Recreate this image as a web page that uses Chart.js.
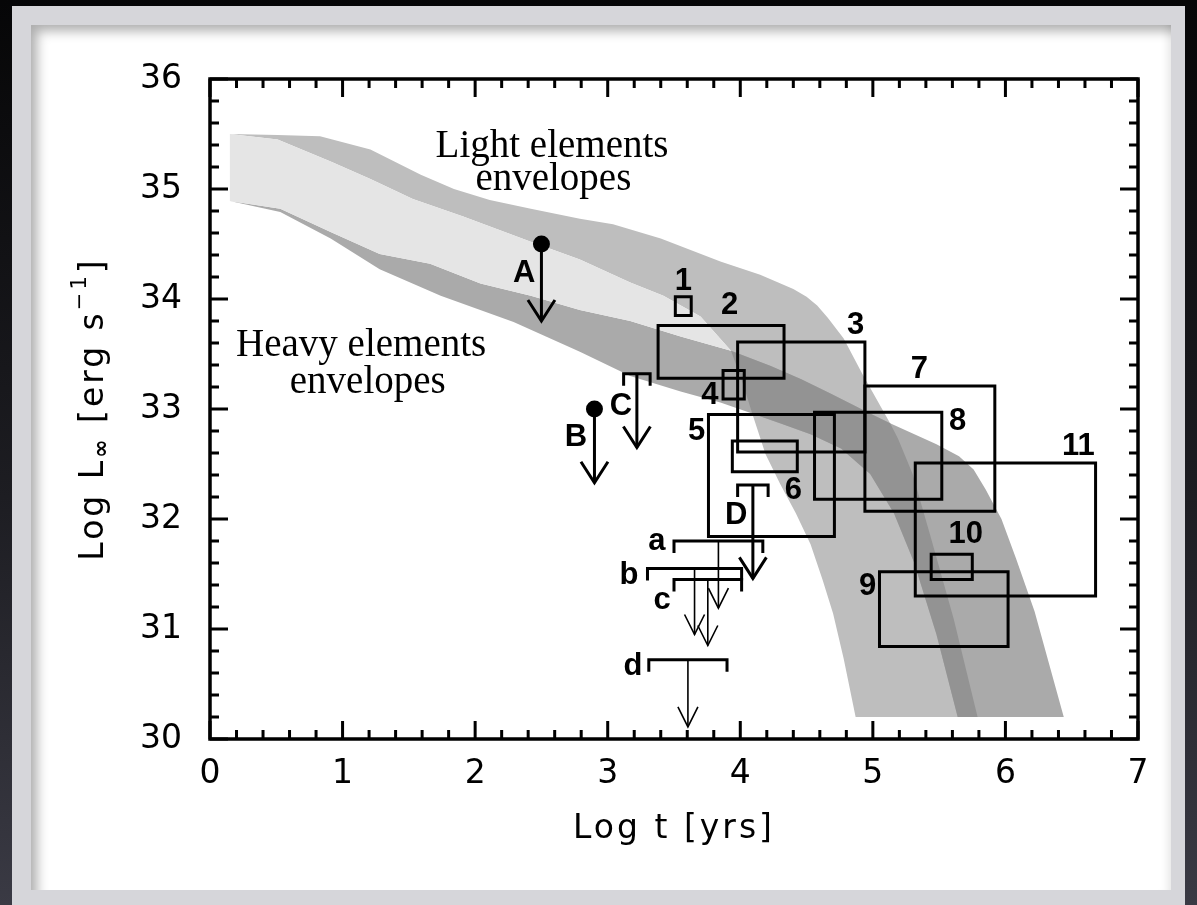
<!DOCTYPE html>
<html>
<head>
<meta charset="utf-8">
<script src="https://cdn.jsdelivr.net/npm/chart.js@4.4.1/dist/chart.umd.min.js"></script>
<style>
  html, body { margin: 0; padding: 0; }
  body {
    width: 1197px; height: 905px; overflow: hidden; position: relative;
    background: linear-gradient(180deg, #060607 0%, #1d1d22 55%, #3a3a44 100%);
  }
  #panel { position: absolute; left: 12px; top: 6px; width: 1173px; height: 899px; background: #d6d6da; }
  #sheet {
    position: absolute; left: 31px; top: 25px; width: 1140px; height: 865px; background: #fff;
    box-shadow: inset 12px 12px 12px -6px rgba(0,0,0,.32), inset -10px 0 10px -8px rgba(0,0,0,.12);
  }
  #chart { position: absolute; left: 0; top: 0; }
</style>
</head>
<body>
<div id="panel"></div>
<div id="sheet"></div>
<canvas id="chart" width="1197" height="905"></canvas>
<script>
// Axes: log age (years) and log thermal luminosity (erg/s)
const ageRange = [0, 7];
const lumRange = [30, 36];

// Minimal-cooling predictions: edges of the two envelope bands, as [log t, log L]
const lightTop = [[0.15,35.50],[0.51,35.49],[0.83,35.48],[1.21,35.36],[1.59,35.13],[1.84,35.00],[2.11,34.90],[2.42,34.82],[2.79,34.73],[3.04,34.68],[3.40,34.55],[3.85,34.34],[4.15,34.22],[4.40,34.09],[4.50,34.02],[4.58,33.94],[4.66,33.83],[4.78,33.64],[4.92,33.32],[5.06,33.02],[5.13,32.87],[5.19,32.73],[5.30,32.41],[5.44,31.82],[5.61,31.09],[5.79,30.20]];
const lightBottom = [[0.15,35.50],[0.51,35.45],[0.91,35.25],[1.21,35.09],[1.53,34.91],[1.91,34.75],[2.42,34.52],[2.79,34.36],[3.17,34.15],[3.42,34.03],[3.70,33.84],[3.93,33.53],[4.02,33.23],[4.09,32.96],[4.19,32.59],[4.30,32.32],[4.42,32.05],[4.53,31.77],[4.62,31.45],[4.70,31.14],[4.78,30.73],[4.87,30.20]];
const heavyTop = [[0.15,34.89],[0.53,34.82],[0.91,34.61],[1.28,34.41],[1.66,34.32],[2.04,34.14],[2.42,34.03],[2.79,33.90],[3.17,33.80],[3.55,33.66],[3.93,33.53],[4.23,33.39],[4.46,33.27],[4.68,33.14],[4.96,32.97],[5.13,32.87],[5.48,32.68],[5.65,32.57],[5.76,32.45],[5.85,32.27],[5.97,32.00],[6.08,31.64],[6.22,31.16],[6.33,30.68],[6.44,30.20]];
const heavyBottom = [[0.15,34.89],[0.53,34.79],[0.91,34.55],[1.28,34.27],[1.74,34.03],[2.29,33.79],[2.79,33.52],[3.17,33.30],[3.55,33.16],[3.85,33.06],[4.09,32.96],[4.30,32.87],[4.53,32.77],[4.76,32.64],[4.98,32.41],[5.16,32.05],[5.31,31.61],[5.48,30.95],[5.64,30.20]];
// where the band edges cross each other
const crossLowLightTopHeavy = [3.93, 33.53];
const crossTopLightTopHeavy = [5.13, 32.87];
const crossLowLightLowHeavy = [4.09, 32.96];

const envCaption = ['Light elements', 'envelopes', 'Heavy elements', 'envelopes'];
const envCaptionAge = [2.58, 2.59, 1.14, 1.19];
const envCaptionLum = [35.29, 34.99, 33.48, 33.145];

// Detected sources: error boxes in age and luminosity
const boxNames = ['1','2','3','4','5','6','7','8','9','10','11'];
const boxAgeMin = [3.51, 3.38, 3.98, 3.87, 3.76, 3.94, 4.94, 4.56, 5.05, 5.44, 5.32];
const boxAgeMax = [3.63, 4.33, 4.94, 4.03, 4.71, 4.43, 5.92, 5.52, 6.02, 5.75, 6.68];
const boxLumMin = [33.85, 33.28, 32.61, 33.09, 31.84, 32.43, 32.07, 32.18, 30.84, 31.45, 31.30];
const boxLumMax = [34.02, 33.76, 33.61, 33.35, 32.95, 32.71, 33.21, 32.97, 31.52, 31.68, 32.51];
const boxLabelAge = [3.57, 3.92, 4.87, 3.77, 3.67, 4.40, 5.35, 5.64, 4.96, 5.70, 6.55];
const boxLabelLum = [34.16, 33.94, 33.76, 33.12, 32.80, 32.26, 33.36, 32.89, 31.39, 31.86, 32.66];

// Upper limits with a known age
const dotNames = ['A', 'B'];
const dotAge = [2.50, 2.90];
const dotLum = [34.50, 33.00];
const dotTip = [33.80, 32.33];
const dotLabelAge = [2.37, 2.76];
const dotLabelLum = [34.23, 32.74];

// Upper limits with an age range
const limNames = ['C', 'D', 'a', 'b', 'c', 'd'];
const limAgeMin = [3.12, 3.98, 3.50, 3.30, 3.50, 3.31];
const limAgeMax = [3.32, 4.21, 4.17, 4.01, 4.01, 3.90];
const limLum = [33.32, 32.31, 31.80, 31.55, 31.45, 30.72];
const limTip = [32.65, 31.46, 31.19, 30.95, 30.85, 30.11];
const limLabelAge = [3.10, 3.97, 3.37, 3.16, 3.41, 3.19];
const limLabelLum = [33.02, 32.03, 31.80, 31.49, 31.26, 30.66];

// ---- helpers ----
const pts = arr => arr.map(([x, y]) => ({ x, y }));
const rev = arr => arr.slice().reverse();
const at = (curve, p) => curve.findIndex(q => q[0] === p[0] && q[1] === p[1]);
const isThin = name => name === name.toLowerCase() && name !== name.toUpperCase();

const iA = at(lightBottom, crossLowLightTopHeavy), iB = at(lightBottom, crossLowLightLowHeavy);
const hA = at(heavyTop, crossLowLightTopHeavy), hB = at(heavyTop, crossTopLightTopHeavy);
const uB = at(lightTop, crossTopLightTopHeavy), bB = at(heavyBottom, crossLowLightLowHeavy);

const lightBand = [...lightTop, ...rev(lightBottom)];
const heavyBand = [...heavyTop, ...rev(heavyBottom)];
const betweenBands = [...lightBottom.slice(0, iA + 1), ...rev(heavyTop.slice(0, hA + 1))];
const bothBands = [
  ...heavyTop.slice(hA, hB + 1),
  ...lightTop.slice(uB),
  ...rev(heavyBottom.slice(bB)),
  ...rev(lightBottom.slice(iA, iB + 1))
];

const area = (data, color, order) => ({
  data: pts(data), showLine: true, fill: 'shape', backgroundColor: color,
  borderColor: 'rgba(0,0,0,0)', borderWidth: 0, pointRadius: 0, tension: 0, order
});

const datasets = [
  area(lightBand, '#bebebe', 100),
  area(heavyBand, '#aaaaaa', 99),
  area(betweenBands, '#e5e5e5', 98),
  area(bothBands, '#939393', 97)
];

boxNames.forEach((n, i) => {
  const a0 = boxAgeMin[i], a1 = boxAgeMax[i], l0 = boxLumMin[i], l1 = boxLumMax[i];
  datasets.push({
    data: pts([[a0, l0], [a1, l0], [a1, l1], [a0, l1], [a0, l0]]),
    showLine: true, fill: false, borderColor: '#000', borderWidth: 3,
    borderJoinStyle: 'miter', borderCapStyle: 'square', pointRadius: 0, tension: 0, order: 10
  });
});

dotNames.forEach((n, i) => {
  datasets.push({
    data: pts([[dotAge[i], dotLum[i]], [dotAge[i], dotTip[i]]]),
    showLine: true, fill: false, borderColor: '#000', borderWidth: 3,
    pointRadius: 0, tension: 0, order: 8
  });
});

limNames.forEach((n, i) => {
  const mid = (limAgeMin[i] + limAgeMax[i]) / 2;
  datasets.push({
    data: pts([[mid, limLum[i]], [mid, limTip[i]]]),
    showLine: true, fill: false, borderColor: '#000', borderWidth: isThin(n) ? 1.6 : 3,
    pointRadius: 0, tension: 0, order: 8
  });
});

datasets.push({
  data: dotNames.map((n, i) => ({ x: dotAge[i], y: dotLum[i] })),
  showLine: false, pointRadius: 8.5, pointBackgroundColor: '#000', pointBorderWidth: 0, order: 1
});

const SANS = '"DejaVu Sans", sans-serif';

// Frame, inward ticks, labels and axis titles
const decorations = {
  id: 'decorations',
  afterDatasetsDraw(chart) {
    const { ctx, scales: { x, y } } = chart;
    const px = v => x.getPixelForValue(v), py = v => y.getPixelForValue(v);
    ctx.save();
    ctx.strokeStyle = '#000'; ctx.fillStyle = '#000';
    ctx.lineJoin = 'miter'; ctx.lineCap = 'butt';

    // brackets of the age-range limits
    limNames.forEach((n, i) => {
      const x0 = px(limAgeMin[i]), x1 = px(limAgeMax[i]), yb = py(limLum[i]);
      ctx.lineWidth = 3;
      ctx.beginPath();
      ctx.moveTo(x0, yb + 12); ctx.lineTo(x0, yb); ctx.lineTo(x1, yb); ctx.lineTo(x1, yb + 12);
      ctx.stroke();
    });

    // open arrow heads
    const head = (t, l, thin) => {
      const hx = px(t), hy = py(l), w = thin ? 10 : 13.5, h = thin ? 20 : 21;
      ctx.lineWidth = thin ? 1.6 : 3;
      ctx.beginPath();
      ctx.moveTo(hx - w, hy - h); ctx.lineTo(hx, hy); ctx.lineTo(hx + w, hy - h);
      ctx.stroke();
    };
    dotNames.forEach((n, i) => head(dotAge[i], dotTip[i], false));
    limNames.forEach((n, i) => head((limAgeMin[i] + limAgeMax[i]) / 2, limTip[i], isThin(n)));

    // envelope captions
    ctx.font = '39px "Liberation Serif", "Times New Roman", serif';
    ctx.textAlign = 'center'; ctx.textBaseline = 'alphabetic';
    envCaption.forEach((s, i) => ctx.fillText(s, px(envCaptionAge[i]), py(envCaptionLum[i])));

    // source labels
    ctx.font = 'bold 31px "Liberation Sans", Arial, sans-serif';
    ctx.textBaseline = 'middle';
    boxNames.forEach((s, i) => ctx.fillText(s, px(boxLabelAge[i]), py(boxLabelLum[i])));
    dotNames.forEach((s, i) => ctx.fillText(s, px(dotLabelAge[i]), py(dotLabelLum[i])));
    limNames.forEach((s, i) => ctx.fillText(s, px(limLabelAge[i]), py(limLabelLum[i])));
    ctx.restore();
  },
  afterDraw(chart) {
    const { ctx, chartArea: a, scales: { x, y } } = chart;
    ctx.save();
    ctx.strokeStyle = '#000'; ctx.fillStyle = '#000';
    ctx.lineWidth = 3.5;
    ctx.strokeRect(a.left, a.top, a.right - a.left, a.bottom - a.top);

    ctx.lineWidth = 3; ctx.lineCap = 'butt';
    ctx.beginPath();
    for (let k = 0; k <= (ageRange[1] - ageRange[0]) * 5; k++) {
      const p = x.getPixelForValue(ageRange[0] + k / 5), len = k % 5 === 0 ? 18 : 9;
      ctx.moveTo(p, a.bottom); ctx.lineTo(p, a.bottom - len);
      ctx.moveTo(p, a.top); ctx.lineTo(p, a.top + len);
    }
    for (let k = 0; k <= (lumRange[1] - lumRange[0]) * 5; k++) {
      const p = y.getPixelForValue(lumRange[0] + k / 5), len = k % 5 === 0 ? 18 : 9;
      ctx.moveTo(a.left, p); ctx.lineTo(a.left + len, p);
      ctx.moveTo(a.right, p); ctx.lineTo(a.right - len, p);
    }
    ctx.stroke();

    // x title
    ctx.letterSpacing = '3px';
    ctx.font = '33px ' + SANS;
    ctx.textAlign = 'center'; ctx.textBaseline = 'alphabetic';
    ctx.fillText('Log t [yrs]', (a.left + a.right) / 2, a.bottom + 99);

    // y title, rotated, with sub- and superscript
    const big = '33px ' + SANS, small = '21px ' + SANS;
    const parts = [['Log L', big, 0], ['\u221E', 'bold 22px ' + SANS, 5], [' [erg s', big, 0], ['\u22121', small, -17], [']', big, 0]];
    ctx.translate(a.left - 107, (a.top + a.bottom) / 2);
    ctx.rotate(-Math.PI / 2);
    ctx.textAlign = 'left';
    let w = 0;
    parts.forEach(([s, f]) => { ctx.font = f; w += ctx.measureText(s).width; });
    let cx = -w / 2;
    parts.forEach(([s, f, dy]) => { ctx.font = f; ctx.fillText(s, cx, dy); cx += ctx.measureText(s).width; });
    ctx.restore();
  }
};

new Chart(document.getElementById('chart'), {
  type: 'scatter',
  data: { datasets },
  options: {
    responsive: false, animation: false, devicePixelRatio: 1, events: [],
    layout: { padding: { top: 79, right: 59, left: 0, bottom: 0 } },
    plugins: { legend: { display: false }, tooltip: { enabled: false } },
    scales: {
      x: {
        type: 'linear', min: ageRange[0], max: ageRange[1],
        afterFit: s => { s.height = 166; },
        grid: { display: false, drawTicks: false }, border: { display: false },
        ticks: { stepSize: 1, padding: 16, color: '#000', font: { family: 'DejaVu Sans', size: 33 } }
      },
      y: {
        type: 'linear', min: lumRange[0], max: lumRange[1],
        afterFit: s => { s.width = 210; },
        grid: { display: false, drawTicks: false }, border: { display: false },
        ticks: { stepSize: 1, padding: 28, color: '#000', font: { family: 'DejaVu Sans', size: 33 } }
      }
    }
  },
  plugins: [decorations]
});
</script>
</body>
</html>
